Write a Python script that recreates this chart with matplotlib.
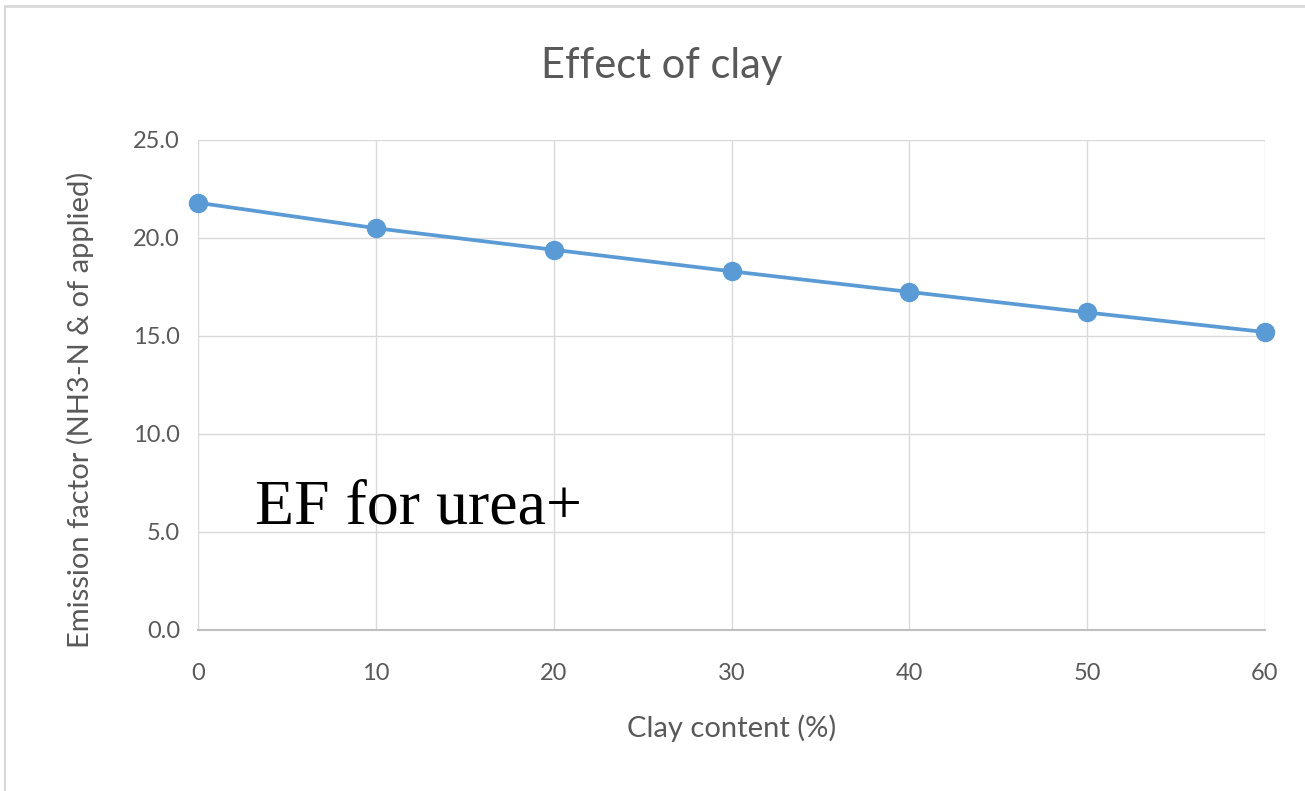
import numpy as np
import matplotlib.pyplot as plt
from matplotlib.lines import Line2D

# data
clay = [0, 10, 20, 30, 40, 50, 60]
ef = [21.8, 20.5, 19.4, 18.3, 17.25, 16.2, 15.2]
xticks = [0, 10, 20, 30, 40, 50, 60]
yticks = [0, 5, 10, 15, 20, 25]

grey = '#595959'
blue = '#5B9BD5'

fig = plt.figure(figsize=(13.05, 7.91), dpi=100)
ax = fig.add_axes([198/1305, 1-630/791, (1265-198)/1305, (630-140)/791])

ax.plot(clay, ef, color=blue, lw=2.7, marker='o', ms=13, clip_on=False, zorder=3)

ax.set_xlim(0, 60)
ax.set_ylim(0, 25)
ax.set_xticks(xticks)
ax.set_yticks(yticks)
ax.set_yticklabels(['%.1f' % v for v in yticks])
ax.tick_params(length=0, labelsize=17, labelcolor=grey, pad=13)
ax.tick_params(axis='x', pad=24)
for lab in ax.get_xticklabels() + ax.get_yticklabels():
    lab.set_family('Lato')

ax.grid(True, color='#d9d9d9', lw=1)
ax.set_axisbelow(True)
for s in ['top', 'right', 'left']:
    ax.spines[s].set_visible(False)
ax.spines['bottom'].set_color('#bfbfbf')
ax.spines['bottom'].set_linewidth(1.5)

fig.text(662/1305, 1-66/791, 'Effect of clay', ha='center', va='center',
         fontsize=30, color=grey, family='Lato')
fig.text(732/1305, 1-728/791, 'Clay content (%)', ha='center', va='center',
         fontsize=21, color=grey, family='Lato')
fig.text(80/1305, 1-410/791, 'Emission factor (NH3-N & of applied)', ha='center',
         va='center', rotation=90, fontsize=21, color=grey, family='Lato')

# overlaid annotation
fig.text(255/1305, 1-524/791, 'EF for urea+', ha='left', va='baseline',
         fontsize=46, color='black', family='Liberation Serif')

# chart area border (left and top visible)
fig.add_artist(Line2D([5/1305, 5/1305], [0, 1-6/791], color='#d9d9d9', lw=1.5))
fig.add_artist(Line2D([5/1305, 1], [1-6/791, 1-6/791], color='#d9d9d9', lw=2))

fig.savefig('out.png', dpi=100)
